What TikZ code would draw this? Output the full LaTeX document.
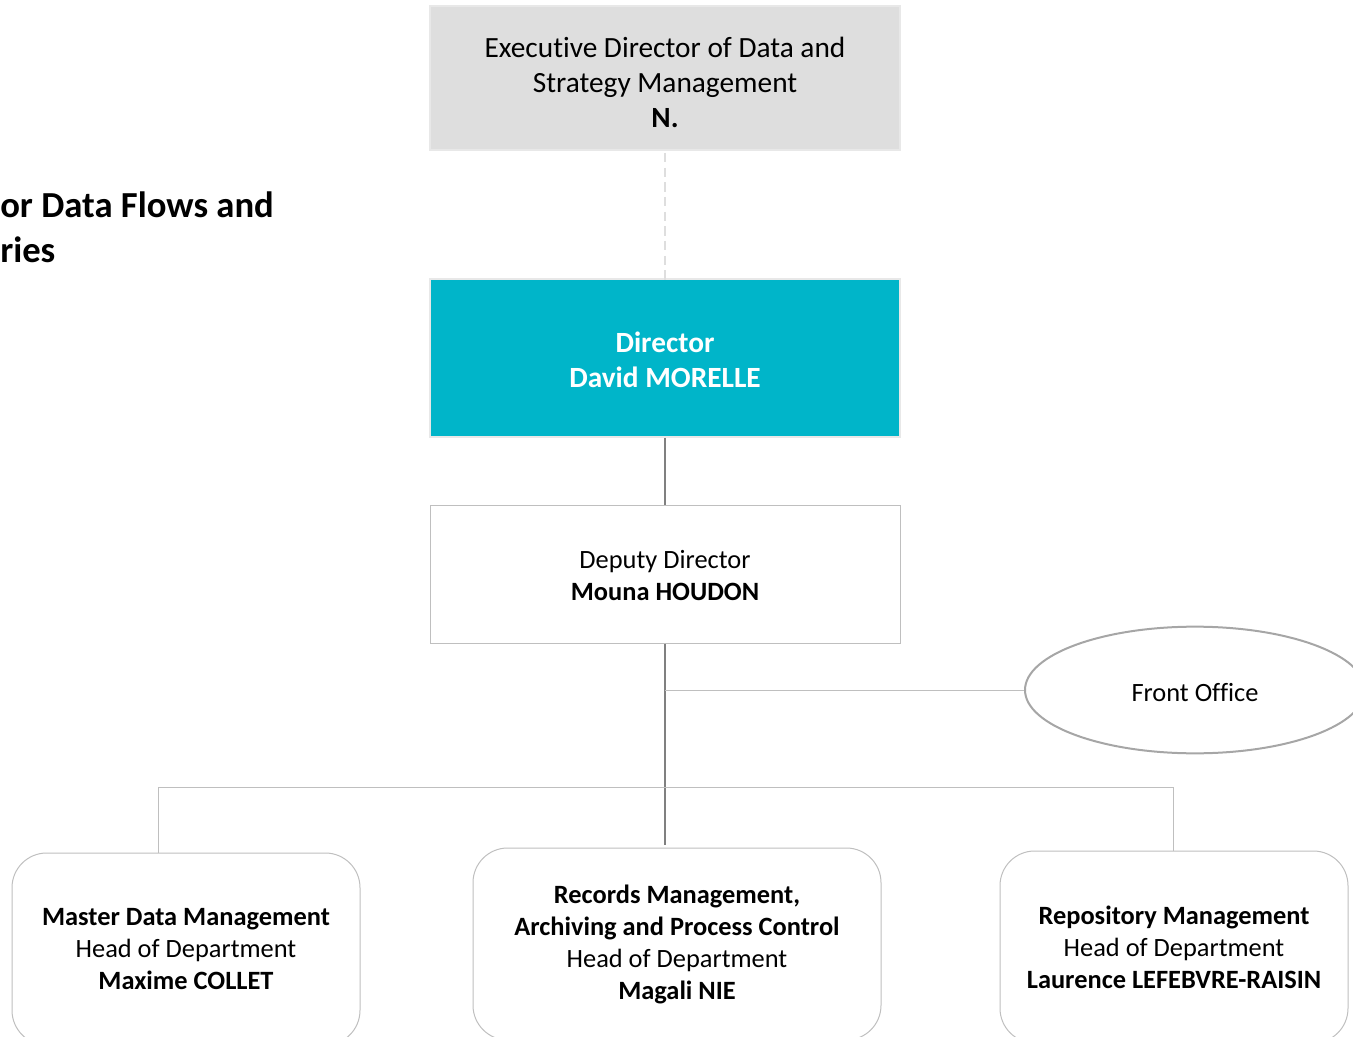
\documentclass[tikz,border=0pt]{standalone}
\usepackage{fontspec}
\setmainfont{Carlito}[Ligatures=NoCommon]
\usetikzlibrary{shapes.geometric}

\definecolor{headgray}{HTML}{DEDEDE}
\definecolor{headedge}{HTML}{E8E8E8}
\definecolor{dircyan}{HTML}{00B5C9}
\definecolor{boxedge}{HTML}{BFBFBF}
\definecolor{trunkgray}{HTML}{808080}
\definecolor{ovaledge}{HTML}{A6A6A6}

\newcommand{\headroom}[1]{\rule{0pt}{#1}}

\begin{document}
\begin{tikzpicture}[x=.75pt, y=-.75pt,
    bigtext/.style={font=\fontsize{22}{26.25}\selectfont},
    smalltext/.style={font=\fontsize{19.8}{24}\selectfont},
    headbox/.style={draw=headedge, fill=headgray, line width=1.5pt, minimum width=352.5pt, inner sep=0pt, align=center, bigtext},
    deptbox/.style={draw=boxedge, rounded corners=26pt, line width=.75pt, minimum height=144pt, inner sep=0pt, align=center, smalltext},
    trunk/.style={draw=trunkgray, line width=1.5pt},
    branch/.style={draw=boxedge, line width=.75pt}]

    \useasboundingbox (0,0) rectangle (1353,1037);
    \clip (0,0) rectangle (1353,1037);

    % title, cut by the frame
    \node[anchor=west, inner sep=0pt, align=left, font=\fontsize{27.5}{33.75}\selectfont\bfseries] (title) at (0,227) {or Data Flows and\\ries};

    \node[headbox, minimum height=108pt] (exec) at (665,78) {\headroom{22pt}Executive Director of Data and\\Strategy Management\\\textbf{N.}};
    \node[headbox, fill=dircyan, minimum height=118.5pt, text=white, font=\fontsize{22}{26.25}\selectfont\bfseries] (dir) at (665,358) {\headroom{18pt}Director\\David MORELLE};
    \node[headbox, draw=boxedge, fill=white, line width=.75pt, minimum height=103.5pt, smalltext] (dep) at (665,574) {\headroom{16pt}Deputy Director\\\textbf{Mouna HOUDON}};

    \node[ellipse, draw=ovaledge, line width=1.5pt, minimum width=255pt, minimum height=95pt, inner sep=0pt, smalltext] (front) at (1195,690) {\headroom{17pt}Front Office};

    \node[deptbox, minimum width=261pt] (mdm) at (186,949) {\textbf{Master Data Management}\\Head of Department\\\textbf{Maxime COLLET}};
    \node[deptbox, minimum width=306pt] (rec) at (677,944) {\textbf{Records Management,}\\\textbf{Archiving and Process Control}\\Head of Department\\\textbf{Magali NIE}};
    \node[deptbox, minimum width=261pt] (repo) at (1174,947) {\textbf{Repository Management}\\Head of Department\\\textbf{Laurence LEFEBVRE-RAISIN}};

    \coordinate (fojoin) at (665,690);
    \coordinate (trunkend) at (665,845);
    \coordinate (busL) at (158,787);
    \coordinate (busR) at (1173,787);

    \draw[headgray, line width=1.5pt, dash pattern=on 7pt off 4pt] (exec.south) ++(0,2) -- ([yshift=-5pt]dir.north);
    \draw[trunk] (dir.south) -- (dep.north);
    \draw[trunk] (dep.south) -- (trunkend);
    \draw[branch] (fojoin) -- (front.west);
    \draw[branch] (busL) -- (busR);
    \draw[branch] (busL) -- (busL |- mdm.north);
    \draw[branch] (busR) -- (busR |- repo.north);

\end{tikzpicture}
\end{document}
